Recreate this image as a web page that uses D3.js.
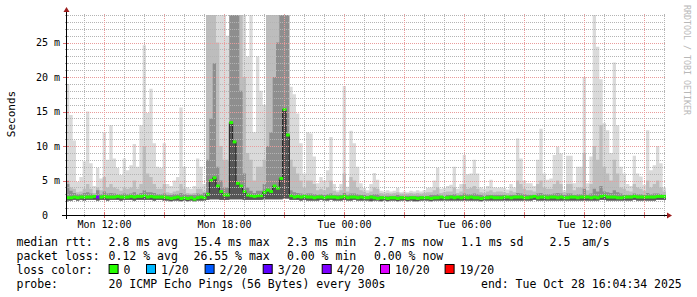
<!DOCTYPE html>
<html>
<head>
<meta charset="utf-8">
<script src="https://cdn.jsdelivr.net/npm/d3@7"></script>
<style>
  body { margin: 0; background: #fff; }
  text { font-family: "DejaVu Sans Mono", monospace; }
</style>
</head>
<body>
<div id="chart"></div>
<script>
// Smoke data, one value per 10 minute bin (ms)
const median = [
  2.5, 2.5, 2.6, 2.5, 2.6, 2.6, 2.6, 2.6, 2.7, 2.6, 2.6, 2.7, 2.6, 2.6, 2.6,
  2.7, 2.6, 2.6, 2.6, 2.7, 2.6, 2.7, 2.7, 2.8, 2.6, 2.7, 2.6, 2.6, 2.6, 2.6,
  2.5, 2.4, 2.5, 2.6, 2.4, 2.5, 2.4, 2.5, 2.3, 2.5, 2.6, 2.5, 3.0, 5.0, 5.4,
  4.2, 3.4, 2.9, 2.9, 13.4, 10.6, 4.6, 4.2, 3.4, 2.9, 2.8, 2.7, 2.8, 2.8, 3.3,
  3.6, 3.4, 4.2, 3.9, 5.3, 15.3, 11.6, 2.8, 2.6, 2.7, 2.6, 2.7, 2.6, 2.6, 2.5,
  2.6, 2.6, 2.5, 2.6, 2.6, 2.6, 2.5, 2.6, 2.7, 2.5, 2.6, 2.6, 2.5, 2.6, 2.5,
  2.5, 2.6, 2.5, 2.4, 2.5, 2.5, 2.4, 2.5, 2.5, 2.4, 2.5, 2.5, 2.4, 2.5, 2.5,
  2.4, 2.5, 2.5, 2.5, 2.4, 2.5, 2.5, 2.6, 2.5, 2.5, 2.6, 2.5, 2.6, 2.5, 2.6,
  2.5, 2.6, 2.5, 2.5, 2.4, 2.5, 2.5, 2.6, 2.5, 2.5, 2.5, 2.6, 2.6, 2.5, 2.6,
  2.6, 2.6, 2.5, 2.5, 2.6, 2.7, 2.5, 2.6, 2.6, 2.5, 2.6, 2.6, 2.5, 2.6, 2.5,
  2.5, 2.6, 2.6, 2.5, 2.6, 2.6, 2.6, 2.5, 2.6, 2.5, 2.7, 2.8, 2.6, 2.6, 2.6,
  2.5, 2.5, 2.6, 2.6, 2.6, 2.7, 2.6, 2.6, 2.6, 2.6, 2.6, 2.6, 2.7, 2.7, 2.7
];
const pingMin = [
  2.1, 2.1, 2.2, 2.1, 2.2, 2.1, 2.2, 2.2, 2.2, 2.1, 2.2, 2.2, 2.1, 2.2, 2.2,
  2.2, 2.1, 2.2, 2.2, 2.2, 2.1, 2.2, 2.2, 2.2, 2.2, 2.2, 2.1, 2.2, 2.2, 2.1,
  2.1, 2.0, 2.1, 2.1, 2.0, 2.1, 2.0, 2.1, 2.0, 2.1, 2.1, 2.1, 2.2, 2.3, 2.3,
  2.3, 2.2, 2.2, 2.2, 2.3, 2.3, 2.3, 2.3, 2.2, 2.2, 2.2, 2.2, 2.2, 2.2, 2.3,
  2.3, 2.3, 2.3, 2.3, 2.3, 2.4, 2.4, 2.2, 2.2, 2.2, 2.1, 2.2, 2.1, 2.1, 2.1,
  2.1, 2.2, 2.1, 2.1, 2.2, 2.1, 2.1, 2.1, 2.2, 2.1, 2.1, 2.2, 2.1, 2.1, 2.1,
  2.1, 2.0, 2.1, 2.1, 2.0, 2.1, 2.0, 2.1, 2.1, 2.0, 2.1, 2.1, 2.0, 2.1, 2.0,
  2.0, 2.1, 2.1, 2.1, 2.0, 2.1, 2.1, 2.1, 2.1, 2.1, 2.1, 2.1, 2.1, 2.1, 2.1,
  2.1, 2.1, 2.1, 2.1, 2.0, 2.1, 2.1, 2.1, 2.1, 2.1, 2.1, 2.1, 2.1, 2.1, 2.1,
  2.1, 2.1, 2.1, 2.1, 2.1, 2.2, 2.1, 2.1, 2.1, 2.1, 2.1, 2.1, 2.1, 2.1, 2.1,
  2.1, 2.1, 2.1, 2.1, 2.1, 2.1, 2.1, 2.1, 2.1, 2.1, 2.2, 2.2, 2.1, 2.1, 2.1,
  2.1, 2.1, 2.1, 2.1, 2.1, 2.2, 2.1, 2.1, 2.1, 2.1, 2.1, 2.1, 2.2, 2.2, 2.2
];
// dark part of the smoke
const pingDense = [
  4.5, 3.5, 3.2, 3.0, 3.0, 3.2, 3.3, 3.1, 2.9, 3.6, 3.0, 3.4, 3.1, 3.2, 3.1,
  3.0, 3.0, 3.1, 3.0, 3.1, 3.3, 3.0, 3.2, 3.6, 3.3, 3.3, 3.2, 3.0, 3.0, 3.1,
  2.9, 2.9, 3.0, 3.0, 3.2, 3.0, 2.9, 2.9, 2.9, 3.1, 3.0, 3.2, 8, 14, 22,
  7, 5, 4, 4, 40, 40, 30, 18, 6, 4, 3.5, 3.2, 3.5, 3.5, 4.5,
  10, 12, 20, 25, 40, 40, 30, 3.6, 3.3, 3.2, 3.1, 3.0, 3.1, 3.1, 3.0,
  2.9, 3.0, 2.9, 3.0, 3.1, 2.9, 2.9, 2.9, 3.2, 2.9, 3.1, 3.1, 3.0, 2.9, 2.9,
  2.8, 2.9, 3.0, 3.0, 2.8, 2.8, 2.8, 2.8, 2.8, 2.9, 2.8, 2.8, 2.8, 2.8, 2.8,
  2.8, 2.8, 2.8, 2.8, 2.9, 2.9, 3.0, 2.8, 2.8, 2.9, 2.9, 3.0, 2.8, 2.9, 3.1,
  3.0, 3.0, 3.1, 3.0, 2.9, 2.8, 2.9, 2.9, 2.9, 2.9, 2.9, 2.9, 2.8, 2.9, 2.9,
  3.2, 3.1, 3.0, 2.9, 2.9, 2.9, 3.1, 3.2, 3.0, 3.0, 3.0, 3.1, 3.2, 3.1, 2.9,
  3.1, 3.1, 2.9, 3.0, 3.0, 3.8, 2.9, 3.1, 3.8, 3.4, 4.2, 3.4, 3.3, 3.2, 3.6,
  3.3, 3.1, 2.9, 2.9, 2.9, 3.1, 3.0, 3.0, 2.9, 3.2, 3.0, 3.1, 3.1, 3.0, 2.9
];
// medium smoke
const pingUpper = [
  5, 4, 3.8, 3.3, 3.4, 3.8, 4.5, 3.8, 3.2, 4, 3.6, 5.5, 4, 4.5, 4,
  3.8, 3.5, 4, 3.8, 4, 5, 3.8, 4.5, 10, 6, 5.5, 4.5, 3.8, 3.8, 4.5,
  3.3, 3.2, 3.4, 3.5, 4.5, 3.8, 3.2, 3.1, 3.2, 3.8, 3.8, 3.4, 40, 40, 40,
  25, 10, 8, 8, 40, 40, 40, 40, 20, 9, 8, 5, 7, 7, 8,
  40, 40, 40, 40, 40, 40, 40, 8, 7, 6, 5, 4, 5, 5, 4.5,
  3.6, 3.8, 3.6, 4, 5, 3.5, 3.3, 3.6, 6, 3.4, 5.5, 5, 4, 3.6, 3.4,
  3.2, 3.4, 4, 3.8, 3.2, 3.1, 3.2, 3.1, 3.2, 3.3, 3.1, 3.1, 3.1, 3.2, 3.1,
  3.2, 3.1, 3.2, 3.3, 3.3, 3.6, 4, 3.2, 3.3, 3.4, 3.4, 4, 3.2, 3.4, 4.5,
  3.8, 3.9, 4.2, 3.8, 3.3, 3.2, 3.4, 3.6, 3.3, 3.4, 3.4, 3.3, 3.2, 3.5, 3.3,
  5, 4.5, 3.8, 3.6, 3.6, 3.4, 4.5, 5, 4, 3.8, 3.8, 4.5, 5, 4.5, 3.3,
  4.5, 4.5, 3.6, 4, 4, 9, 3.6, 4.5, 10, 8, 13, 7, 6, 5, 8,
  6, 4, 3.8, 3.5, 3.4, 4.5, 4, 3.8, 3.5, 5, 4, 4.5, 5, 4, 3.4
];
// light smoke (slowest ping)
const pingMax = [
  19, 14.5, 10.8, 4.8, 5.5, 7.8, 15, 7.5, 4.2, 6.8, 5.3, 12, 8, 13, 8.2,
  6.8, 5.8, 8.2, 6.5, 7.2, 10.3, 7, 13, 24.6, 14.8, 18.3, 10.4, 7, 6.8, 10.4,
  4.5, 4.2, 5, 5.5, 15.6, 7, 4, 3.8, 4.2, 8.2, 7, 4.5, 40, 40, 40,
  40, 40, 40, 26, 40, 40, 40, 40, 40, 23, 40, 12, 23, 18, 16,
  40, 40, 40, 40, 40, 40, 40, 18.6, 17.5, 14.7, 10.4, 6, 12, 11.8, 8.5,
  4.6, 5.5, 5, 6.5, 11.3, 4.5, 3.6, 4.5, 18.7, 4.1, 12.2, 10.4, 7, 4.6, 3.9,
  3.6, 4.5, 6.1, 5.1, 3.5, 3.4, 3.6, 3.4, 3.5, 3.9, 3.3, 3.4, 3.3, 3.5, 3.4,
  3.6, 3.4, 3.6, 3.9, 4.0, 5.0, 6.8, 3.8, 3.9, 4.2, 4.4, 7.0, 3.8, 4.5, 8.7,
  5.9, 6.0, 8.0, 6.0, 4.0, 3.8, 4.2, 5.1, 4.0, 3.9, 4.0, 3.9, 3.7, 4.5, 4.0,
  11.1, 8.2, 5.0, 4.6, 4.6, 4.2, 8.0, 12.5, 6.0, 5.1, 5.3, 8.7, 9.9, 8.9, 3.6,
  8.6, 8.6, 4.6, 7.0, 7.0, 20.0, 4.6, 8.5, 29.5, 24.4, 19.7, 13.3, 12.3, 9.0, 22.1,
  13.0, 7.0, 6.0, 4.5, 4.2, 8.6, 6.0, 5.6, 4.4, 12.3, 6.5, 7.2, 10.0, 7.5, 4.0
];
// bins with lost pings (out of 20)
const lossBin = [9];
const lossCount = [4];

const lossThresholds = [0, 1, 2, 3, 4, 10, 19];
const lossLabels = ["0", "1/20", "2/20", "3/20", "4/20", "10/20", "19/20"];
const lossColors = ["#26ff00", "#00b8ff", "#0059ff", "#5e00ff", "#7e00ff", "#dd00ff", "#ff0000"];

const yTickValues = [0, 5, 10, 15, 20, 25];

const legendRows = [
  ["median rtt:", "2.8 ms avg", "15.4 ms max", "2.3 ms min", "2.7 ms now", "1.1 ms sd", "2.5", "am/s"],
  ["packet loss:", "0.12 % avg", "26.55 % max", "0.00 % min", "0.00 % now"],
  ["loss color:"],
  ["probe:", "20 ICMP Echo Pings (56 Bytes) every 300s", "end: Tue Oct 28 16:04:34 2025"]
];

const endTime = new Date(2025, 9, 28, 16, 4, 34);
const binMinutes = 10;

// ---------------------------------------------------------------
const width = 697, height = 297;
const plot = { left: 66, right: 666, top: 15, bottom: 215 };
const startTime = d3.timeMinute.offset(endTime, -binMinutes * median.length);

const svg = d3.select("#chart").append("svg")
    .attr("width", width)
    .attr("height", height)
    .style("display", "block");

svg.append("rect").attr("width", width).attr("height", height).attr("fill", "#fff");

const x = d3.scaleTime().domain([startTime, endTime]).range([plot.left, plot.right]);
const y = d3.scaleLinear().domain([0, 29]).range([plot.bottom, plot.top]);

// one row per bin, plus a closing row for the step curve
const rows = median.map((m, i) => ({
    t: d3.timeMinute.offset(startTime, i * binMinutes),
    median: m, min: pingMin[i], dense: pingDense[i], upper: pingUpper[i], max: pingMax[i], lost: 0
}));
lossBin.forEach((b, k) => { rows[b].lost = lossCount[k]; });
const stepRows = rows.concat([Object.assign({}, rows[rows.length - 1], { t: endTime })]);

svg.append("clipPath").attr("id", "plotclip")
  .append("rect")
    .attr("x", plot.left).attr("y", plot.top)
    .attr("width", plot.right - plot.left).attr("height", plot.bottom - plot.top);

const smoke = svg.append("g").attr("clip-path", "url(#plotclip)");

// Smoke layers, lightest first; the darkest one runs up to the median
const layers = [["max", "#dadada"], ["upper", "#bdbdbd"], ["dense", "#8e8e8e"], ["median", "#555555"]];
layers.forEach(([key, color]) => {
    const area = d3.area()
        .curve(d3.curveStepAfter)
        .x(d => x(d.t))
        .y0(d => y(d.min))
        .y1(d => y(d[key]));
    smoke.append("path")
        .datum(stepRows)
        .attr("d", area)
        .attr("fill", color);
});

// Grid (dotted, drawn over the smoke like rrdtool)
const grid = svg.append("g");
const minorY = d3.range(1, 30).filter(v => v % 5 !== 0);
const majorY = yTickValues.filter(v => v > 0);
const minorColor = "#b4b4b4", majorColor = "#e99c9c";
const px = v => Math.round(v) + 0.5;
grid.selectAll(".hmin").data(minorY).enter().append("line")
    .attr("x1", plot.left).attr("x2", plot.right)
    .attr("y1", d => px(y(d))).attr("y2", d => px(y(d)))
    .attr("stroke", minorColor).attr("stroke-dasharray", "1,1");
const hours = d3.timeHour.range(startTime, endTime);
const major3 = d3.timeHour.every(3).range(startTime, endTime);
grid.selectAll(".vmin").data(hours.filter(h => h.getHours() % 3 !== 0)).enter().append("line")
    .attr("x1", d => px(x(d))).attr("x2", d => px(x(d)))
    .attr("y1", plot.bottom).attr("y2", plot.top - 2)
    .attr("stroke", minorColor).attr("stroke-dasharray", "1,1");
grid.selectAll(".hmaj").data(majorY).enter().append("line")
    .attr("x1", plot.left).attr("x2", plot.right)
    .attr("y1", d => px(y(d))).attr("y2", d => px(y(d)))
    .attr("stroke", majorColor).attr("stroke-dasharray", "1,1");
grid.selectAll(".vmaj").data(major3).enter().append("line")
    .attr("x1", d => px(x(d))).attr("x2", d => px(x(d)))
    .attr("y1", plot.bottom).attr("y2", plot.top - 2)
    .attr("stroke", majorColor).attr("stroke-dasharray", "1,1");

// Median line: thin dark step line, then loss-coloured segments
const lossColor = n => {
    let c = lossColors[0];
    lossThresholds.forEach((th, i) => { if (n >= th) c = lossColors[i]; });
    return c;
};
smoke.append("path")
    .datum(stepRows)
    .attr("d", d3.line().curve(d3.curveStepAfter).x(d => x(d.t)).y(d => y(d.median)))
    .attr("fill", "none")
    .attr("stroke", "#202020")
    .attr("stroke-width", 1);
smoke.selectAll(".med").data(rows).enter().append("rect")
    .attr("x", d => x(d.t))
    .attr("width", d => x(d3.timeMinute.offset(d.t, binMinutes)) - x(d.t) + 0.4)
    .attr("y", d => y(d.median) - 1.5)
    .attr("height", 3)
    .attr("fill", d => lossColor(d.lost));

// Axes
const axes = svg.append("g").attr("shape-rendering", "crispEdges");
axes.selectAll(".ytk").data(d3.range(0, 30)).enter().append("line")
    .attr("x1", d => d % 5 === 0 ? plot.left - 3 : plot.left - 1.5)
    .attr("x2", d => d % 5 === 0 ? plot.left + 3 : plot.left + 1.5)
    .attr("y1", d => px(y(d))).attr("y2", d => px(y(d)))
    .attr("stroke", d => d % 5 === 0 ? "#e07070" : "#a8a8a8");
axes.selectAll(".xtk").data(hours).enter().append("line")
    .attr("x1", d => px(x(d))).attr("x2", d => px(x(d)))
    .attr("y1", d => d.getHours() % 3 === 0 ? plot.bottom - 3 : plot.bottom - 1.5)
    .attr("y2", d => d.getHours() % 3 === 0 ? plot.bottom + 3 : plot.bottom + 1.5)
    .attr("stroke", d => d.getHours() % 3 === 0 ? "#e07070" : "#a8a8a8");
axes.append("line")
    .attr("x1", plot.left - 4).attr("x2", plot.right + 2)
    .attr("y1", plot.bottom + 0.5).attr("y2", plot.bottom + 0.5)
    .attr("stroke", "#000");
axes.append("line")
    .attr("x1", plot.left + 0.5).attr("x2", plot.left + 0.5)
    .attr("y1", plot.bottom + 4).attr("y2", plot.top - 3)
    .attr("stroke", "#000");
svg.append("path")
    .attr("d", `M${plot.right + 1},${plot.bottom - 2.5}L${plot.right + 6},${plot.bottom + 0.5}L${plot.right + 1},${plot.bottom + 3.5}Z`)
    .attr("fill", "#9b1c1c");
svg.append("path")
    .attr("d", `M${plot.left - 2.5},${plot.top - 3}L${plot.left + 0.5},${plot.top - 8}L${plot.left + 3.5},${plot.top - 3}Z`)
    .attr("fill", "#9b1c1c");

// Tick labels
svg.append("g").selectAll("text").data(yTickValues).enter().append("text")
    .attr("x", 60)
    .attr("y", d => y(d) + 3.5)
    .attr("text-anchor", "end")
    .style("white-space", "pre")
    .attr("font-size", 10)
    .attr("fill", "#000")
    .text(d => d === 0 ? "0  " : d + " m");

const fmt = d3.timeFormat("%a %H:%M");
svg.append("g").selectAll("text").data(d3.timeHour.every(6).range(startTime, endTime)).enter().append("text")
    .attr("x", d => x(d))
    .attr("y", 228)
    .attr("text-anchor", "middle")
    .attr("font-size", 10)
    .attr("fill", "#000")
    .text(d => fmt(d));

svg.append("text")
    .attr("transform", "translate(15,114) rotate(-90)")
    .attr("text-anchor", "middle")
    .attr("font-size", 11)
    .attr("fill", "#000")
    .text("Seconds");

svg.append("text")
    .attr("transform", "translate(684,5) rotate(90)")
    .attr("font-size", 8.3)
    .attr("fill", "#b8b8b8")
    .text("RRDTOOL / TOBI OETIKER");

// Legend
const colX = [
    [16.5, 108.6, 193.5, 287, 374, 461, 549.6, 582],
    [16.5, 108.6, 193.5, 287, 374],
    [16.5],
    [16.5, 108.6, 481]
];
const legend = svg.append("g").attr("font-size", 11.5).attr("fill", "#000");
legendRows.forEach((row, r) => {
    row.forEach((s, c) => {
        legend.append("text")
            .attr("x", colX[r][c])
            .attr("y", 245.5 + r * 14)
            .style("white-space", "pre")
            .text(s);
    });
});
const boxX = [108.6, 146, 204.6, 262.7, 321.7, 380, 444.6];
lossLabels.forEach((lab, i) => {
    legend.append("rect")
        .attr("x", boxX[i] + 0.5).attr("y", 264.5)
        .attr("width", 9).attr("height", 9)
        .attr("fill", lossColors[i])
        .attr("stroke", "#000");
    legend.append("text")
        .attr("x", boxX[i] + 15)
        .attr("y", 273.5)
        .text(lab);
});
</script>
</body>
</html>
